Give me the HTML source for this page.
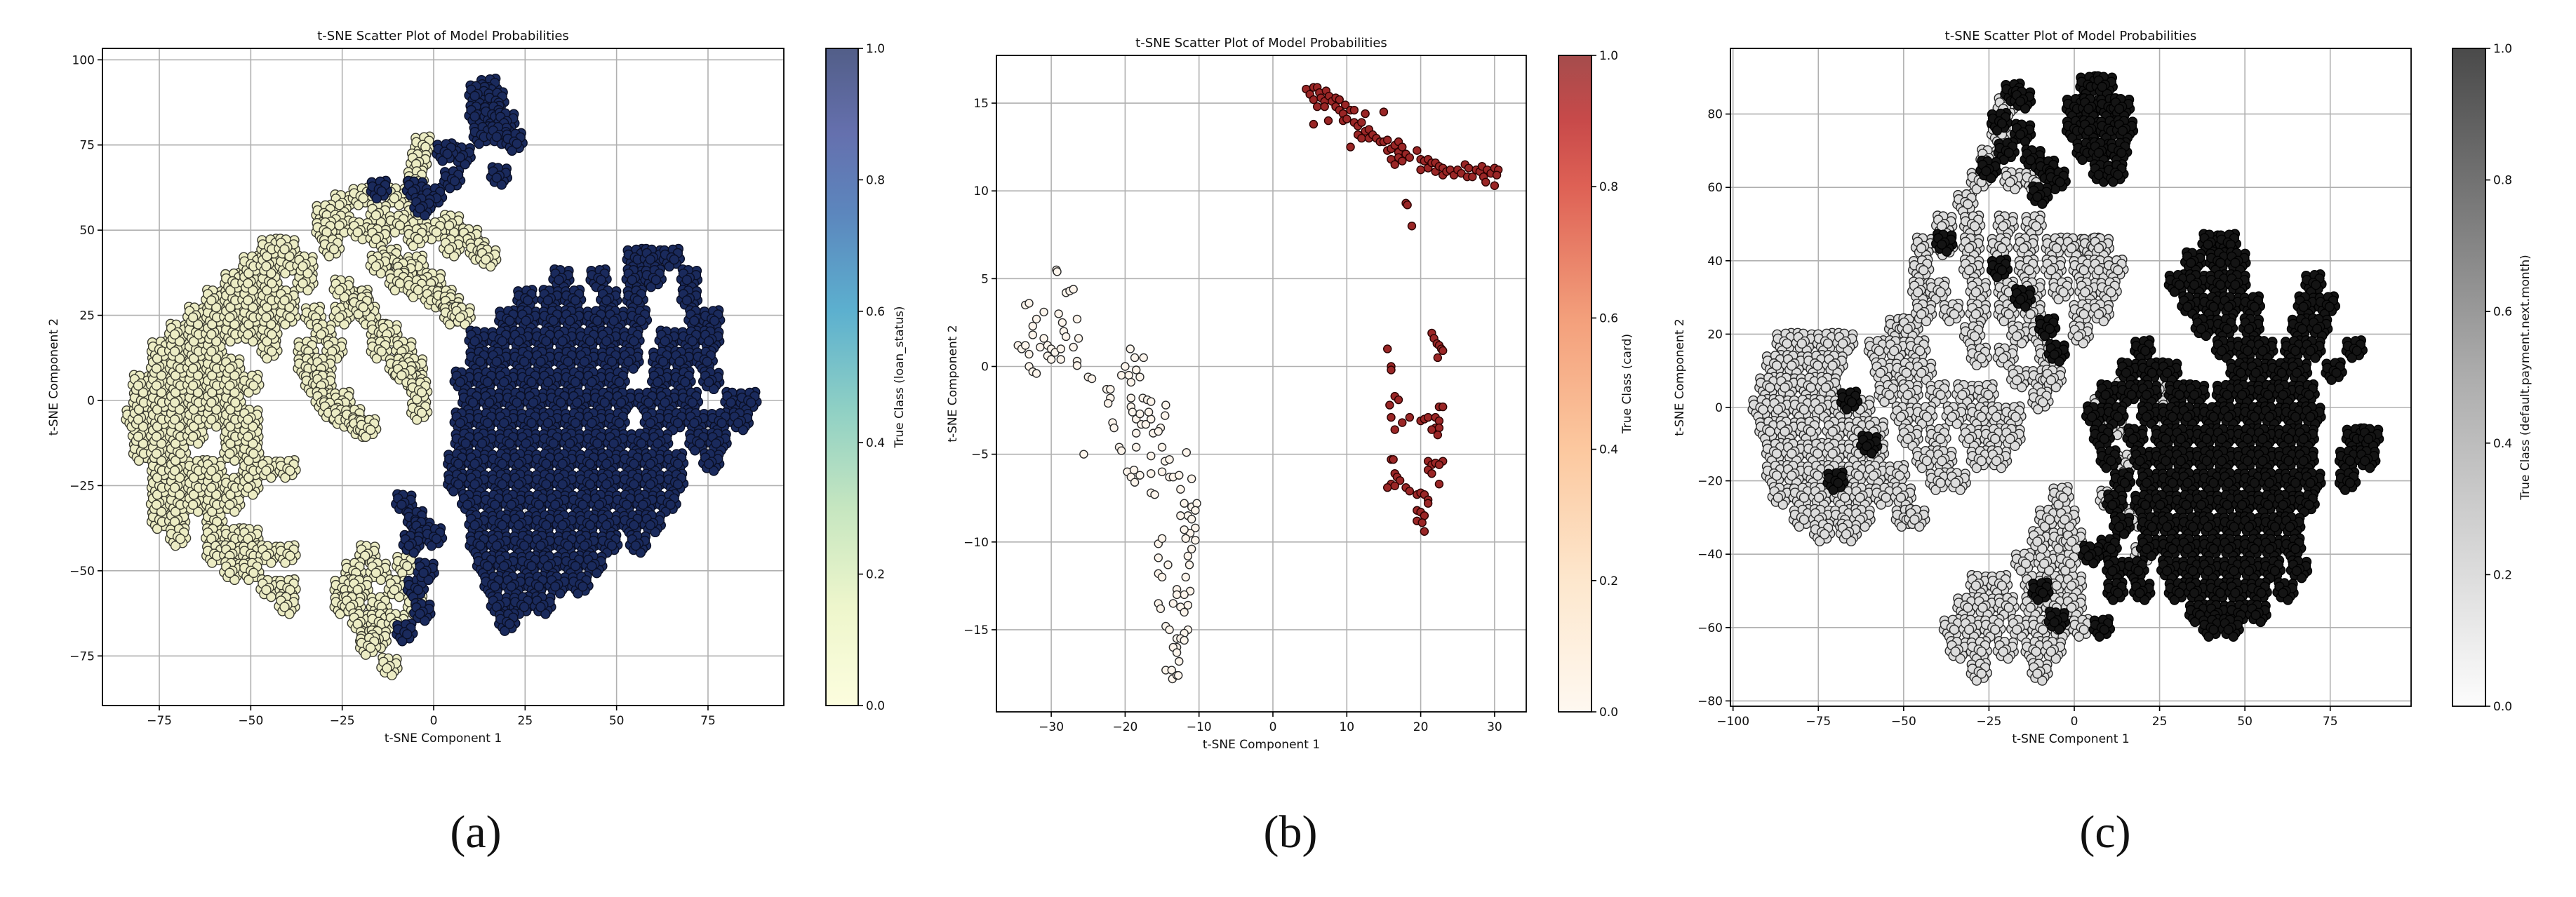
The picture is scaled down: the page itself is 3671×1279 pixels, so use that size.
<!DOCTYPE html>
<html><head><meta charset="utf-8"><style>
html,body{margin:0;padding:0;background:#fff;}
svg{display:block;}
text{font-family:"DejaVu Sans","Liberation Sans",sans-serif;fill:#111;}
.cap{font-family:"Liberation Serif","DejaVu Serif",serif;}
</style></head><body>
<svg id="fig" width="3671" height="1279" viewBox="0 0 3671 1279" xmlns="http://www.w3.org/2000/svg"></svg>
<script>
// ---------- Panel (a) data ----------
const aXTicks=[-75,-50,-25,0,25,50,75];
const aYTicks=[-75,-50,-25,0,25,50,75,100];
const aLightRows=[[-15,[-80]],[-10,[-80]],[-5,[-82,-80]],[0,[-80]],[5,[-80]],
[-35,[-75,-70,-60]],[-30,[-75,-70,-65,-60,-55]],[-25,[-75,-70,-65,-60,-55,-50]],[-20,[-75,-70,-65,-60,-50,-45,-40]],[-15,[-75,-70,-55,-50]],[-10,[-75,-70,-65,-55,-50]],[-5,[-75,-70,-65,-60,-55,-50]],[0,[-75,-70,-65,-60,-55]],[5,[-75,-70,-65,-60,-55,-50]],[10,[-75,-70,-65,-60,-55]],[15,[-75,-70,-65,-60,-45]],[20,[-70,-65,-60,-55,-50,-45]],[25,[-65,-60,-55,-50,-45,-40]],[30,[-60,-55,-50,-45,-40]],[35,[-55,-50,-45,-35]],[40,[-50,-45,-40,-35]],[45,[-45,-40]],
[-40,[-70,-60,-55,-50]],[-45,[-60,-55,-50,-45,-40]],[-50,[-55,-50]],[-55,[-45,-40]],[-60,[-40]],
[25,[-33,-25,-18]],[20,[-30,-15,-12]],[15,[-35,-27,-15,-8]],[10,[-35,-30,-10,-5]],[5,[-33,-30,-5]],[0,[-30,-25]],[-3,[-28,-4]],[-5,[-25,-22]],[-8,[-20,-18]],[30,[-22,-20]],[33,[-25]],[28,[-20]],[8,[-8]],[3,[-4]],
[58,[-25]],[60,[-20,-10]],[55,[-30,-15,-5]],[52,[-25,-10,5]],[50,[-30,-20,0]],[48,[-15,-5,10]],[45,[-28,5]],[44,[12]],[42,[15,-12]],[40,[-15,-5]],[38,[-8]],[35,[-10,0]],[33,[-5]],[30,[0,3]],[28,[5]],[25,[5,8]],[75,[-3]],[70,[-4]],[65,[-5]],
[-45,[-18]],[-50,[-22,-15]],[-55,[-25,-20]],[-60,[-25,-22,-15]],[-65,[-20,-15,-10]],[-70,[-18,-15]],[-72,[-18]],[-78,[-12]],[-48,[-8]],[-55,[-10]],[-60,[-5]]];
const aDarkRows=[[92,[15]],[90,[12]],[88,[17]],[84,[12,16]],[82,[20]],[78,[13,18]],[76,[22]],[66,[18]],
[62,[-15,-5]],[60,[0]],[57,[-3]],[65,[5]],[72,[8]],[73,[3]],
[-30,[-8]],[-35,[-5]],[-38,[-3]],[-40,[0]],[-42,[-6]],[-55,[-5]],[-62,[-3]],[-68,[-8]],[-50,[-2]],
[42,[55,60,65]],[36,[35,45,55,60,70]],[30,[25,32,38,48,55,70]],[24,[20,26,32,38,44,50,56,72,76]],[18,[12,18,24,30,36,42,48,54,64,70,76]],[12,[12,18,24,30,36,42,48,54,62,68,74]],[6,[8,14,20,26,32,38,44,50,62,68,76]],[0,[10,16,22,28,34,40,46,52,58,64,70,82,86]],[-6,[8,14,20,26,32,38,44,50,60,66,72,78,84]],[-12,[8,14,20,26,32,38,44,50,56,62,72,78]],[-18,[6,12,18,24,30,36,42,48,54,60,66,76]],[-24,[6,12,18,24,30,36,42,48,54,60,66]],[-30,[10,16,22,28,34,40,46,52,58,64]],[-36,[12,18,24,30,36,42,48,54,60]],[-42,[12,18,24,30,36,42,48,56]],[-48,[14,20,26,32,38,44]],[-54,[16,22,28,34,40]],[-60,[18,24,30]],[-65,[20]]];

// ---------- Panel (b) data ----------
const bXTicks=[-30,-20,-10,0,10,20,30];
const bYTicks=[-15,-10,-5,0,5,10,15];
const bLightPts=[[-33.5,3.5],[-33,3.6],[-34.5,1.2],[-34,1.0],[-33.5,1.2],[-32.5,2.3],[-32,2.7],[-31,3.1],[-32.5,1.8],[-31.5,1.1],[-31,1.6],[-30.5,1.2],[-30,1.0],[-30.5,0.6],[-30,0.4],[-29.5,0.8],[-33,0.7],[-33,0],[-32.5,-0.3],[-32,-0.4],[-29.3,5.5],[-29.2,5.4],[-29,3.0],[-28.5,2.5],[-28.3,2.0],[-28,1.7],[-28.7,1.0],[-28.7,0.4],[-28,4.2],[-27.5,4.3],[-27,4.4],[-26.5,2.7],[-26.3,1.6],[-26.5,0.3],[-26.5,0.05],[-27,1.1],[-25.6,-5.0],[-25,-0.6],[-24.5,-0.7],[-22.5,-1.3],[-22,-1.3],[-22,-1.8],[-22.3,-2.1],[-21.7,-3.2],[-21.5,-3.5],[-20.8,-4.6],[-20.5,-4.8],[-20.5,-0.5],[-20,0.0],[-19.5,-0.5],[-19.3,1.0],[-19.2,-0.9],[-18.7,0.5],[-18.5,-0.2],[-18,-0.6],[-17.5,0.5],[-19.2,-1.8],[-19.2,-2.3],[-18.5,-3.0],[-19,-2.6],[-18,-2.7],[-17.6,-1.8],[-17,-1.9],[-16.5,-2.0],[-17.8,-3.3],[-17.2,-3.3],[-16.5,-3.0],[-16.8,-2.6],[-16.2,-3.8],[-15.2,-3.5],[-14.6,-2.8],[-14.5,-2.2],[-15.5,-3.7],[-18.5,-3.8],[-18.5,-4.6],[-16.5,-5.1],[-15,-4.6],[-14.6,-5.4],[-14,-5.3],[-19.7,-6.0],[-19.2,-6.3],[-18.8,-5.9],[-18.7,-6.6],[-18,-6.2],[-16.5,-6.1],[-16.5,-7.2],[-16,-7.3],[-15,-6.0],[-14,-6.3],[-13.5,-6.3],[-12.7,-6.2],[-11.7,-4.9],[-11,-6.4],[-12.5,-7.0],[-12,-7.8],[-11,-8.0],[-10.3,-7.8],[-10.5,-8.2],[-11.5,-8.5],[-12.5,-8.5],[-11,-8.7],[-10.5,-9.2],[-11.2,-9.5],[-10.5,-9.9],[-11,-10.4],[-11.8,-9.8],[-12,-9.3],[-15.5,-10.1],[-15,-9.8],[-15.5,-10.9],[-14.2,-11.3],[-15.5,-11.8],[-15,-12.0],[-11.5,-10.8],[-11.3,-11.3],[-11.8,-12],[-11.2,-12.8],[-12,-13],[-13,-12.7],[-13,-13.0],[-15.5,-13.5],[-15.2,-13.8],[-13.5,-13.5],[-12.5,-13.7],[-11.5,-13.6],[-12,-14],[-11.5,-15],[-12,-15.2],[-14.5,-14.8],[-14,-15],[-13,-15.5],[-12.5,-15.5],[-12,-15.6],[-13,-16],[-13.5,-16],[-13,-16.3],[-12.7,-16.8],[-14.5,-17.3],[-13.7,-17.3],[-13.6,-17.8],[-13,-17.6],[-12.8,-17.6]];
const bDarkPts=[[4.5,15.8],[5,15.5],[5.5,15.2],[5.5,15.9],[6,15.9],[6.3,15.6],[6.5,15.3],[7,15.1],[7.2,15.7],[7.6,15.4],[8,15.1],[8.5,15.3],[9,15.2],[5.5,13.8],[6,14.8],[7,14.8],[7.5,14.0],[8.5,14.8],[9,14.6],[9.5,14.4],[9.5,14.0],[10,14.1],[9.8,14.9],[10.5,14.6],[11,14.6],[10.5,12.5],[11,13.9],[11.5,13.7],[12,13.9],[12.5,14.4],[11.5,13.2],[12,13.0],[12.5,13.4],[13,13.5],[13,13.0],[13.5,13.2],[14,13.0],[14.5,12.8],[15,12.8],[15.5,12.9],[15.5,12.3],[16,12.4],[16,11.8],[16.5,12.6],[17,12.8],[17,12.2],[17.5,12.5],[17,11.9],[17.5,11.7],[18,12.1],[18.5,11.9],[16.5,11.5],[19.5,12.3],[20,11.8],[20,11.2],[20.5,11.7],[21,11.8],[21,11.3],[21.5,11.6],[22,11.6],[22,11.1],[22.5,11.4],[23,11.3],[23,10.9],[23.5,11.1],[24,11.2],[24.5,10.9],[25,11.2],[25.5,11.0],[26,11.5],[26.5,11.3],[26.3,10.8],[27,10.8],[27.5,11.2],[28,11.1],[28.3,11.4],[28.5,10.8],[29,11.2],[29.5,11.0],[30,11.3],[30.5,11.2],[30.3,10.9],[28.8,10.5],[30,10.3],[15,14.5],[18,9.3],[18.2,9.2],[18.8,8.0],
[15.5,1.0],[16,0],[16,-0.2],[21.5,1.9],[21.8,1.6],[22.2,1.3],[22.5,1.2],[22.8,1.0],[23,0.9],[22.3,0.5],[16.5,-1.7],[17,-1.9],[15.8,-2.2],[16,-2.9],[17.5,-3.2],[18.5,-2.9],[16.5,-3.6],[20,-3.1],[20.5,-3.0],[21,-2.9],[22,-2.9],[22.5,-2.3],[23,-2.3],[22.5,-3.1],[22,-3.5],[21.5,-3.6],[22.5,-3.5],[22.3,-3.9],[16,-5.3],[16.3,-5.3],[23,-5.4],[21,-5.4],[21.5,-5.6],[22,-5.5],[22.5,-5.6],[21,-5.9],[21.5,-6.1],[16.5,-6.1],[16.8,-6.3],[17.2,-6.5],[16,-6.7],[15.5,-6.9],[16.5,-6.8],[22.5,-6.7],[18,-6.9],[18.5,-7.1],[19.5,-7.3],[20,-7.2],[20.5,-7.3],[21,-7.6],[21,-7.8],[19.5,-8.2],[20,-8.3],[20.5,-8.5],[19.5,-8.8],[20.2,-8.9],[20.5,-9.4]];

// ---------- Panel (c) data ----------
const cXTicks=[-100,-75,-50,-25,0,25,50,75];
const cYTicks=[-80,-60,-40,-20,0,20,40,60,80];
const cLightRows=[[18,[-85,-79,-73,-67]],[12,[-88,-82,-76,-70]],[6,[-90,-84,-78,-72]],[0,[-92,-86,-80,-74,-68,-62]],[-6,[-90,-84,-78,-70,-64,-58]],[-12,[-88,-82,-76,-70,-64,-58]],[-18,[-88,-82,-76,-70,-64,-58,-52]],[-24,[-86,-80,-74,-68,-62,-56,-50]],[-30,[-80,-74,-68,-62,-50,-46]],[-34,[-74,-66]],
[22,[-52,-48]],[16,[-58,-52,-46]],[10,[-56,-50,-44]],[4,[-55,-48,-40,-32,-26]],[-2,[-50,-44,-35,-28,-22,-18]],[-8,[-48,-40,-30,-24,-18]],[-14,[-44,-38,-28,-22]],[-20,[-40,-34]],
[56,[-32]],[50,[-38,-30,-20,-12]],[44,[-44,-38,-30,-22,-14,-6,0,5,8]],[38,[-45,-30,-14,-6,2,8,12]],[32,[-45,-40,-28,-20,-12,-4,4,10]],[26,[-44,-36,-28,-20,-12,2,8]],[20,[-30,-16,-10,2]],[14,[-28,-20,-8]],[8,[-16,-10,-6]],[2,[-10]],
[82,[-20]],[75,[-22]],[68,[-25]],[62,[-28,-18,-12]],
[-48,[-28,-22,-12,-6,0]],[-54,[-32,-26,-20,-12,-6,0]],[-60,[-36,-30,-24,-16,-10,-4,2]],[-66,[-34,-28,-20,-12,-6]],[-72,[-28,-10]],[-42,[-15,-8,-2]],[-36,[-10,-4,0]],[-30,[-8,-2]],[-24,[-4]],
[-5,[12]],[-15,[15]],[-30,[18]],[-40,[20]],[0,[8]],[5,[15,25]],[0,[28]],[-25,[10]]];
const cDarkRows=[[86,[-18]],[84,[-15]],[78,[-22]],[75,[-15]],[70,[-20]],[68,[-12]],[65,[-8,-25]],[62,[-5]],[58,[-10]],
[88,[4,9]],[82,[0,5,10,14]],[76,[0,5,10,15]],[70,[3,8,13]],[64,[8,12]],
[45,[40,45]],[40,[35,42,48]],[34,[30,36,42,48,70]],[28,[34,40,46,52,68,74]],[22,[38,44,52,66,72]],[16,[20,44,50,56,64,70,82]],[10,[16,22,28,48,54,60,66,76]],[4,[10,16,22,30,36,44,50,56,62,68]],[-2,[6,12,22,28,34,40,46,52,58,64,70]],[-8,[8,18,26,32,38,44,50,56,62,68,82,87]],[-14,[10,20,26,32,38,44,50,56,62,68,80,86]],[-20,[14,22,28,34,40,46,52,58,64,70,80]],[-26,[12,20,26,32,38,44,50,56,62,68]],[-32,[14,22,28,34,40,46,52,58,64]],[-38,[10,22,28,34,40,46,52,58,64]],[-44,[12,18,28,34,40,46,52,58,66]],[-50,[12,20,30,36,42,48,54,62]],[-56,[36,42,48,54]],[-60,[40,46]],
[2,[-66]],[-10,[-60]],[-20,[-70]],[45,[-38]],[38,[-22]],[30,[-15]],[22,[-8]],[15,[-5]],[-50,[-10]],[-58,[-5]],[-60,[8]],[-40,[5]]];
const cbTicks=[0.0,0.2,0.4,0.6,0.8,1.0];

const NS="http://www.w3.org/2000/svg";
const svg=document.getElementById('fig');
function mk(tag,attrs,parent){const e=document.createElementNS(NS,tag);for(const k in attrs)e.setAttribute(k,attrs[k]);(parent||svg).appendChild(e);return e;}
function txt(s,x,y,attrs,parent){const t=mk('text',Object.assign({x:x,y:y},attrs),parent);t.textContent=s;return t;}
// marker cloud pattern (pixel offsets, style only)
const ROS=[[-10,-10],[10,-12],[2,-11],[-11,3],[12,2],[-6,8],[7,9],[-3,13],[-9,-4],[9,-6],[0,0],[4,3]];

function panel(P){
  const g=mk('g',{});
  
  
  const sx=v=>P.x0px+(v-P.x0)*P.kx, sy=v=>P.y0px-(v-P.y0)*P.ky;
  const grid=mk('g',{},g);
  
  
  P.xt.forEach(v=>{mk('line',{x1:sx(v),x2:sx(v),y1:P.T,y2:P.B,stroke:'#b0b0b0','stroke-width':1.6},grid);});
  P.yt.forEach(v=>{mk('line',{x1:P.L,x2:P.R,y1:sy(v),y2:sy(v),stroke:'#b0b0b0','stroke-width':1.6},grid);});
  const pts=mk('g',{},g);
  
  
  const clip=mk('clipPath',{id:P.id+'clip'},g);mk('rect',{x:P.L,y:P.T,width:P.R-P.L,height:P.B-P.T},clip);
  pts.setAttribute('clip-path','url(#'+P.id+'clip)');
  P.series.forEach(s=>{
    const list=s.rows?[].concat(...s.rows.map(r=>r[1].map(x=>[x,r[0]]))):s.pts;
    list.forEach((p,i)=>{
      const offs=s.rows?ROS:[[0,0]];
      const flip=(i%2)?-1:1;
      offs.forEach(o=>{
        const c=mk('circle',{cx:sx(p[0])+o[0]*flip,cy:sy(p[1])+o[1],r:s.r,fill:s.fill,stroke:s.stroke,'stroke-width':1.4},pts);
        
        
      });
    });
  });
  const fr=mk('rect',{x:P.L,y:P.T,width:P.R-P.L,height:P.B-P.T,fill:'none',stroke:'#000','stroke-width':1.8},g);
  
  
  P.xt.forEach(v=>{mk('line',{x1:sx(v),x2:sx(v),y1:P.B,y2:P.B+7,stroke:'#000','stroke-width':1.6},g);
    const t=txt(String(v).replace('-','\u2212'),sx(v),P.B+27,{'font-size':17,'text-anchor':'middle'},g);
    });
  P.yt.forEach(v=>{mk('line',{x1:P.L-7,x2:P.L,y1:sy(v),y2:sy(v),stroke:'#000','stroke-width':1.6},g);
    const t=txt(String(v).replace('-','\u2212'),P.L-11,sy(v)+6,{'font-size':17,'text-anchor':'end'},g);
    });
  let t=txt('t-SNE Scatter Plot of Model Probabilities',(P.L+P.R)/2,P.T-12,{'font-size':18,'text-anchor':'middle'},g);
  
  t=txt('t-SNE Component 1',(P.L+P.R)/2,P.B+52,{'font-size':17,'text-anchor':'middle'},g);
  
  t=txt('t-SNE Component 2',0,0,{'font-size':17,'text-anchor':'middle',transform:'translate('+(P.ylx+6)+','+(P.T+P.B)/2+') rotate(-90)'},g);
  
  const gid=P.id+'grad';
  const lg=mk('linearGradient',{id:gid,x1:0,y1:1,x2:0,y2:0},g);
  P.cb.stops.forEach(s=>mk('stop',{offset:s[0],'stop-color':s[1]},lg));
  const cb=mk('rect',{x:P.cb.x,y:P.T,width:P.cb.w,height:P.B-P.T,fill:'url(#'+gid+')',stroke:'#000','stroke-width':1.8},g);
  
  cbTicks.forEach(v=>{const y=P.B-v*(P.B-P.T);
    mk('line',{x1:P.cb.x+P.cb.w,x2:P.cb.x+P.cb.w+7,y1:y,y2:y,stroke:'#000','stroke-width':1.6},g);
    const tt=txt(v.toFixed(1),P.cb.x+P.cb.w+11,y+6,{'font-size':17},g);
    });
  t=txt(P.cb.label,0,0,{'font-size':17,'text-anchor':'middle',transform:'translate('+(P.cb.lx+6)+','+(P.T+P.B)/2+') rotate(-90)'},g);
  
  t=txt(P.cap,P.capx,1208,{'font-size':66,'text-anchor':'middle',class:'cap'},g);
  
}

panel({id:'a',L:146,R:1117,T:69,B:1006,x0:0,x0px:618,kx:5.213,y0:0,y0px:571,ky:4.857,xt:aXTicks,yt:aYTicks,ylx:76,
  series:[{name:'class-0',rows:aLightRows,r:6.5,fill:'#ececc4',stroke:'#3a3a30'},{name:'class-1',rows:aDarkRows,r:6.5,fill:'#1a2a5c',stroke:'#0a0f25'}],
  cb:{x:1177,w:46,lx:1281,label:'True Class (loan_status)',stops:[[0,'#fcfdde'],[0.15,'#eef6cc'],[0.3,'#c6e6c0'],[0.45,'#8fd0c4'],[0.6,'#5cb0cf'],[0.75,'#5c86bd'],[0.87,'#6570ae'],[1,'#525e88']]},
  cap:'(a)',capx:678});
panel({id:'b',L:1420,R:2175,T:79,B:1015,x0:0,x0px:1814,kx:10.53,y0:0,y0px:522.5,ky:25.03,xt:bXTicks,yt:bYTicks,ylx:1357,
  series:[{name:'class-0',pts:bLightPts,r:5.5,fill:'#fdf5ec',stroke:'#2a2a2a'},{name:'class-1',pts:bDarkPts,r:5.5,fill:'#9a2626',stroke:'#2a0000'}],
  cb:{x:2221,w:47,lx:2318,label:'True Class (card)',stops:[[0,'#fef8f0'],[0.2,'#fde7cd'],[0.4,'#fcc89f'],[0.6,'#f39f7b'],[0.8,'#de6155'],[0.9,'#c84a4a'],[1,'#a54c4c']]},
  cap:'(b)',capx:1839});
panel({id:'c',L:2466,R:3436,T:69,B:1007,x0:0,x0px:2956,kx:4.863,y0:0,y0px:581,ky:5.23,xt:cXTicks,yt:cYTicks,ylx:2393,
  series:[{name:'class-0',rows:cLightRows,r:6.5,fill:'#dcdcdc',stroke:'#2a2a2a'},{name:'class-1',rows:cDarkRows,r:6.5,fill:'#141414',stroke:'#000'}],
  cb:{x:3495,w:47,lx:3598,label:'True Class (default.payment.next.month)',stops:[[0,'#fcfcfc'],[0.5,'#adadad'],[1,'#4a4a4a']]},
  cap:'(c)',capx:3000});
</script>
</body></html>
